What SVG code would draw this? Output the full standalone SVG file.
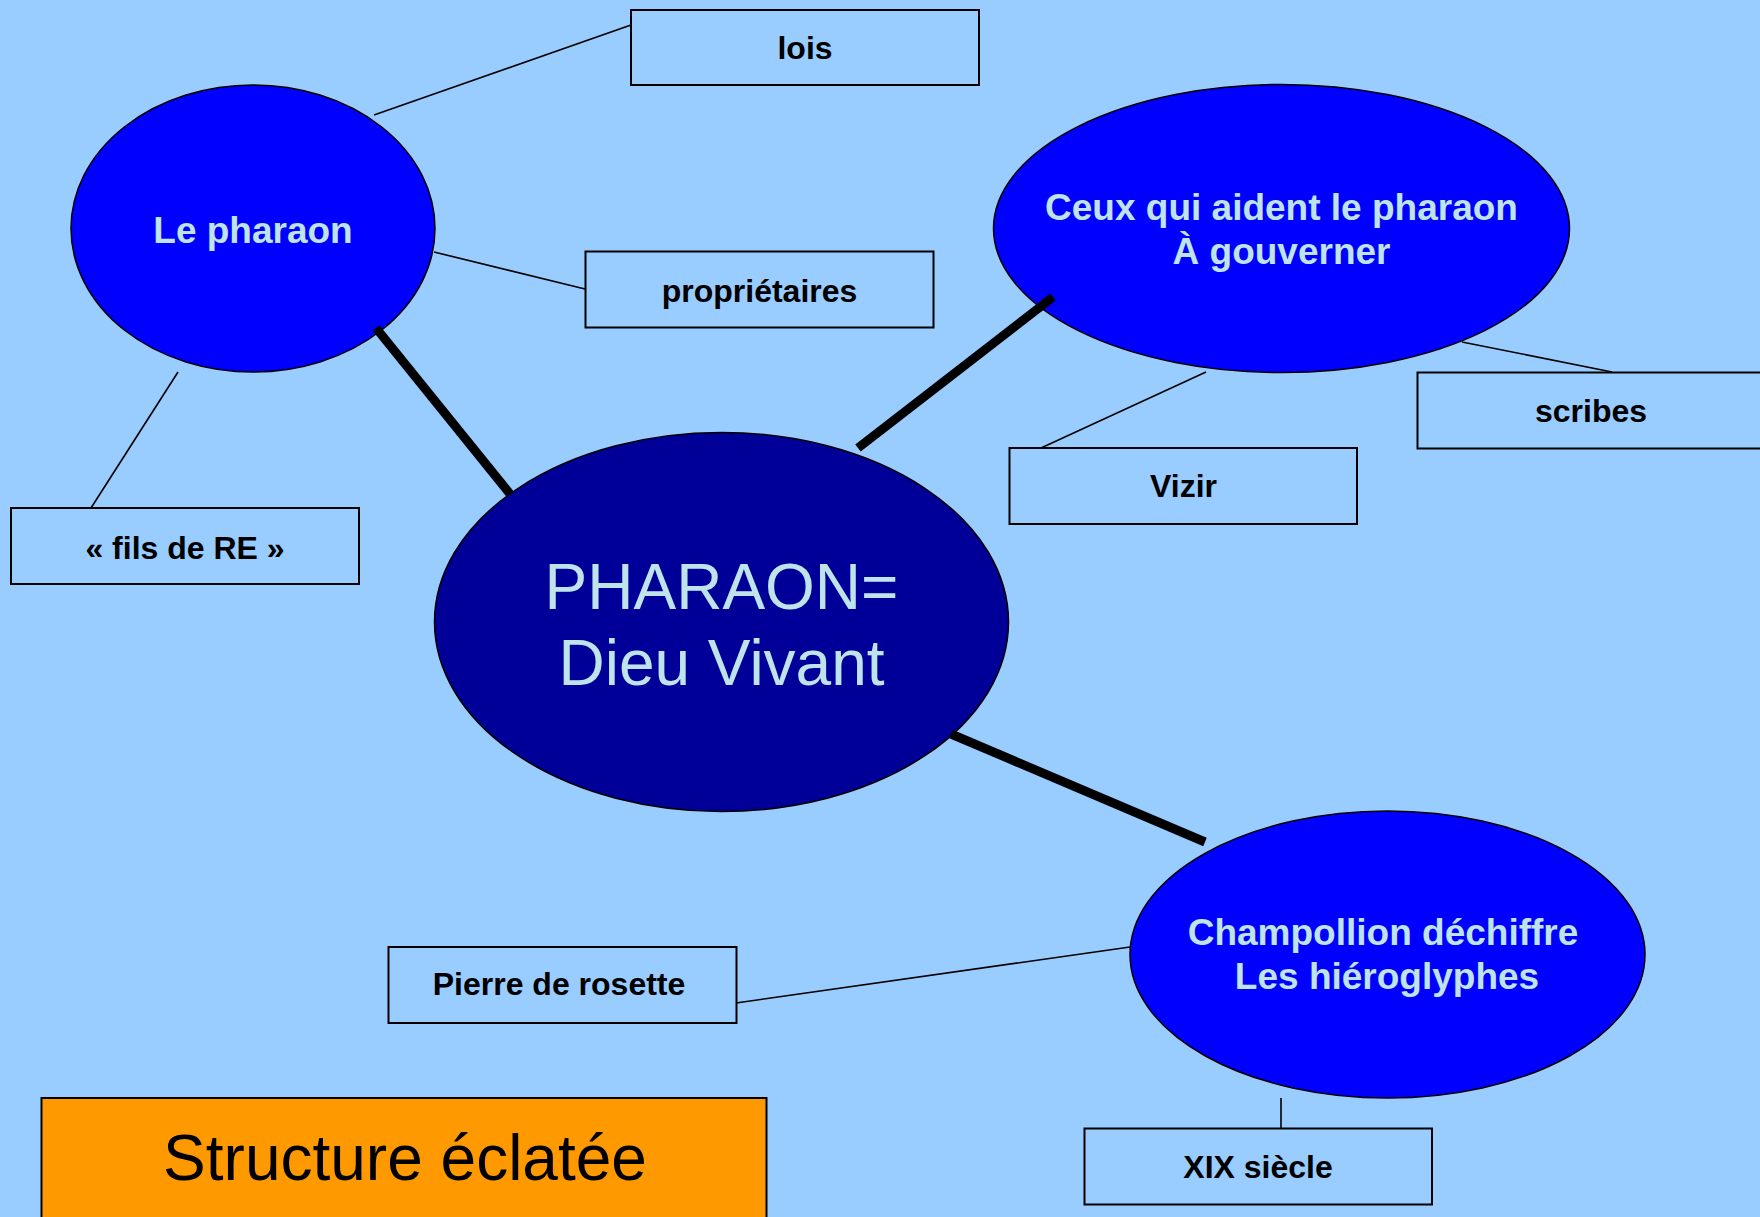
<svg xmlns="http://www.w3.org/2000/svg" width="1760" height="1217" viewBox="0 0 1760 1217">
<style>
.bg{fill:#99CCFF}
.oval{fill:#0000FF;stroke:#000;stroke-width:1.5}
.main{fill:#000099;stroke:#000;stroke-width:1.5}
.box{fill:#99CCFF;stroke:#000;stroke-width:2}
.thin{stroke:#000;stroke-width:1.6;fill:none}
.thick{stroke:#000;stroke-width:9;fill:none}
.ot{font-family:"Liberation Sans",Arial,sans-serif;font-weight:bold;font-size:37px;fill:#BEE3EA;text-anchor:middle}
.mt{font-family:"Liberation Sans",Arial,sans-serif;font-size:64px;fill:#BEE3EA;text-anchor:middle}
.bt{font-family:"Liberation Sans",Arial,sans-serif;font-weight:bold;font-size:32px;fill:#000;text-anchor:middle}
</style>
<rect class="bg" x="0" y="0" width="1760" height="1217"/>
<g id="central">
<ellipse class="main" cx="721.5" cy="622" rx="287" ry="189.5"/>
<text class="mt" x="721.5" y="609">PHARAON=</text>
<text class="mt" x="721.5" y="685">Dieu Vivant</text>
</g>
<g id="le-pharaon">
<ellipse class="oval" cx="253" cy="228.5" rx="182" ry="143.5"/>
<text class="ot" x="253" y="243">Le pharaon</text>
</g>
<g id="ceux">
<ellipse class="oval" cx="1281.5" cy="228.5" rx="288" ry="144"/>
<text class="ot" x="1281.5" y="220">Ceux qui aident le pharaon</text>
<text class="ot" x="1281.5" y="264">À gouverner</text>
</g>
<g id="champollion">
<ellipse class="oval" cx="1387.5" cy="954.5" rx="257.5" ry="143.5"/>
<text class="ot" x="1383" y="945">Champollion déchiffre</text>
<text class="ot" x="1387" y="989">Les hiéroglyphes</text>
</g>
<g id="lois">
<rect class="box" x="631" y="10" width="348" height="75"/>
<text class="bt" x="805" y="59">lois</text>
</g>
<g id="proprietaires">
<rect class="box" x="585.5" y="251.5" width="348" height="76"/>
<text class="bt" x="759.5" y="302">propriétaires</text>
</g>
<g id="fils">
<rect class="box" x="11" y="508" width="348" height="76"/>
<text class="bt" x="185" y="559">« fils de RE »</text>
</g>
<g id="vizir">
<rect class="box" x="1009.5" y="448" width="347.5" height="76"/>
<text class="bt" x="1183.5" y="497">Vizir</text>
</g>
<g id="scribes">
<rect class="box" x="1417.5" y="372.5" width="348" height="76"/>
<text class="bt" x="1591" y="422">scribes</text>
</g>
<g id="pierre">
<rect class="box" x="388.5" y="947" width="348" height="76"/>
<text class="bt" x="559" y="995">Pierre de rosette</text>
</g>
<g id="xix">
<rect class="box" x="1084.5" y="1128.5" width="347.5" height="76"/>
<text class="bt" x="1258" y="1178">XIX siècle</text>
</g>
<g id="structure">
<rect x="41.5" y="1098" width="725" height="140" fill="#FF9900" stroke="#000" stroke-width="2"/>
<text x="405" y="1180" font-family="'Liberation Sans',Arial,sans-serif" font-size="64" fill="#000" text-anchor="middle">Structure éclatée</text>
</g>
<g id="connectors">
<line class="thin" x1="374" y1="115" x2="631" y2="25"/>
<line class="thin" x1="434" y1="252" x2="585" y2="289"/>
<line class="thin" x1="178" y1="372" x2="91" y2="508"/>
<line class="thin" x1="1206" y1="372" x2="1041" y2="448"/>
<line class="thin" x1="1462" y1="342" x2="1612" y2="372"/>
<line class="thin" x1="736" y1="1003" x2="1130" y2="947"/>
<line class="thin" x1="1281" y1="1098" x2="1281" y2="1128"/>
<line class="thick" x1="376" y1="328" x2="510" y2="494"/>
<line class="thick" x1="858" y1="448" x2="1053" y2="297"/>
<line class="thick" x1="951" y1="734" x2="1205" y2="842"/>
</g>
</svg>
